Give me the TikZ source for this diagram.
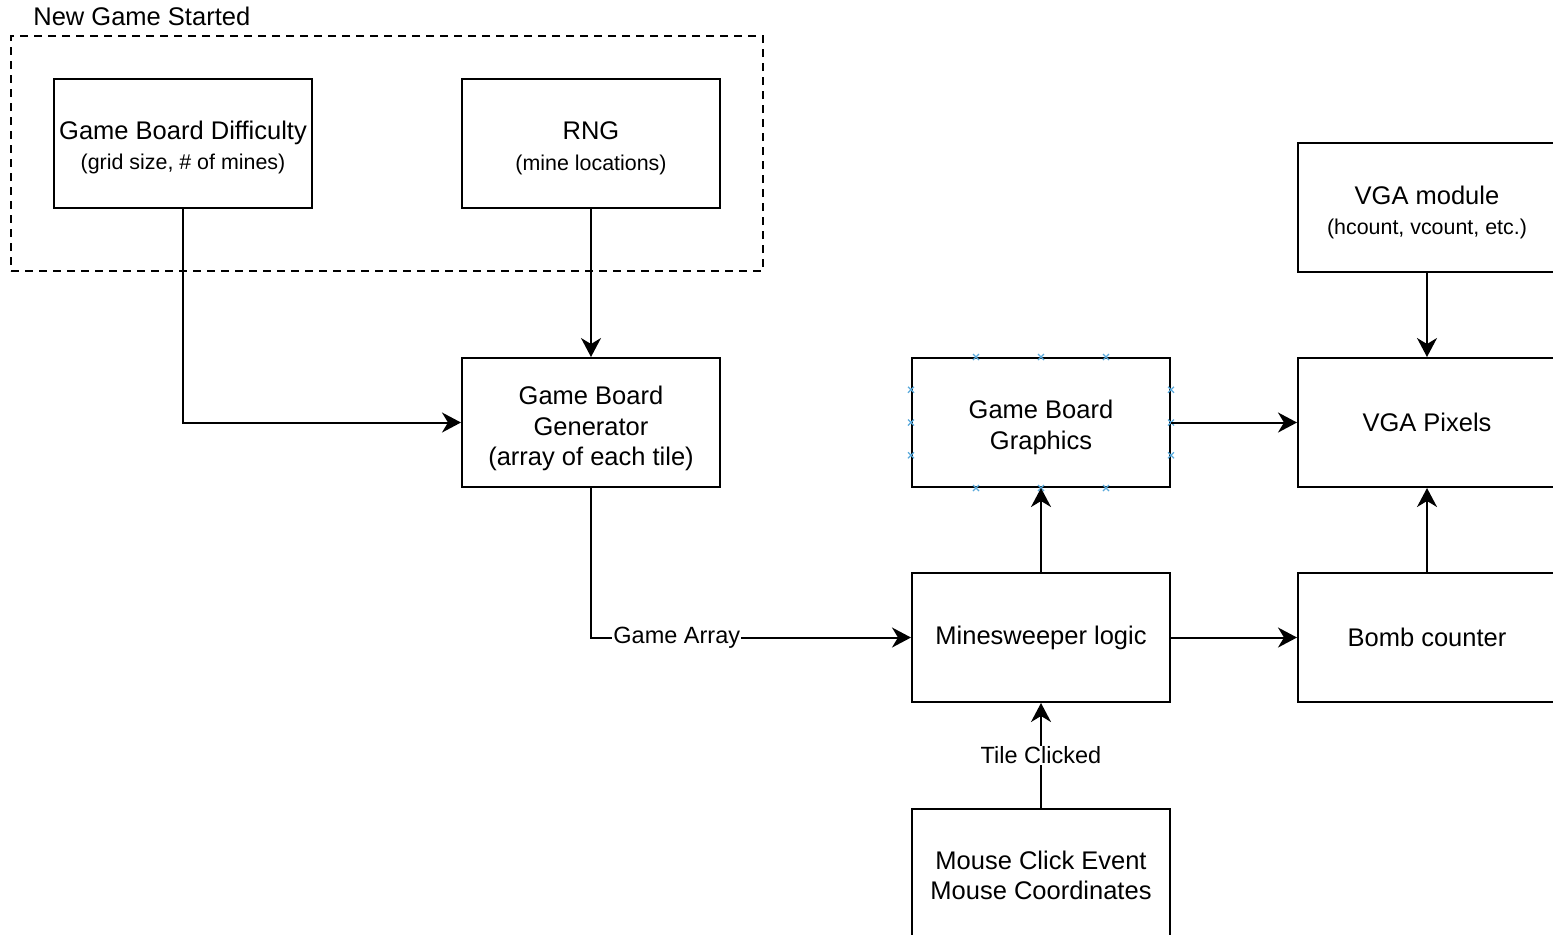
\documentclass[tikz,border=0pt]{standalone}
\usepackage{fontspec}
\setmainfont{Liberation Sans}
\usetikzlibrary{arrows.meta,positioning,calc}

\newcommand{\subtxt}{\fontsize{10.7}{13}\selectfont}
\newcommand{\tstrut}[1]{\rule{0pt}{#1}}

\begin{document}
\begin{tikzpicture}[x=0.5pt,y=-0.5pt,
  block/.style={draw, line width=1pt, minimum width=129pt, minimum height=64.5pt, align=center, inner sep=0pt, font=\fontsize{12.75}{15.25}\selectfont},
  group/.style={draw, dash pattern=on 4pt off 3pt, line width=0.9pt, minimum width=376pt, minimum height=117.5pt, inner sep=0pt},
  flow/.style={-{Stealth[length=9.5pt,width=10pt,inset=3pt]}, line width=1pt},
  lbl/.style={fill=white, inner sep=0.5pt, font=\fontsize{11.75}{14}\selectfont},
  handle/.style={draw={rgb,255:red,90;green,170;blue,220}, line width=0.6pt},
]
\useasboundingbox (0,0) rectangle (1553,934);

% group of things set when a game starts
\node[group] (newgame) at (387,153.5) {};
\node[anchor=base west, inner sep=0pt, font=\fontsize{12.75}{15.25}\selectfont] (newgamelbl) at (33,25) {New Game Started};

\node[block] (difficulty) at (183,143.5) {\tstrut{13.3pt}Game Board Difficulty\\{\subtxt (grid size, \# of mines)}};
\node[block] (rng) at (591,143.5) {\tstrut{13.5pt}RNG\\{\subtxt (mine locations)}};
\node[block] (vgamod) at (1427,207.5) {\tstrut{14.3pt}VGA module\\{\subtxt (hcount, vcount, etc.)}};

\node[block] (generator) at (591,422.5) {\tstrut{15.3pt}Game Board\\Generator\\(array of each tile)};
\node[block] (graphics) at (1041,422.5) {\tstrut{14.3pt}Game Board\\Graphics};
\node[block] (pixels) at (1427,422.5) {VGA Pixels};

\node[block] (logic) at (1041,637.5) {Minesweeper logic};
\node[block] (bomb) at (1427,637.5) {Bomb counter};
\node[block] (mouse) at (1041,873.5) {\tstrut{11.3pt}Mouse Click Event\\Mouse Coordinates};

% selection handles on the graphics box
\foreach \f in {0.25,0.5,0.75} {
  \draw[handle] ($(graphics.north west)!\f!(graphics.north east)$) +(-3,-3) -- +(3,3) +(-3,3) -- +(3,-3);
  \draw[handle] ($(graphics.south west)!\f!(graphics.south east)$) +(-3,-3) -- +(3,3) +(-3,3) -- +(3,-3);
  \draw[handle] ($(graphics.north west)!\f!(graphics.south west)$) +(-3,-3) -- +(3,3) +(-3,3) -- +(3,-3);
  \draw[handle] ($(graphics.north east)!\f!(graphics.south east)$) +(-3,-3) -- +(3,3) +(-3,3) -- +(3,-3);
}

\draw[flow] (difficulty.south) |- (generator.west);
\draw[flow] (rng.south) -- (generator.north);
\draw[flow] (generator.south) |- node[lbl, pos=0.634] {Game Array} (logic.west);
\draw[flow] (logic.north) -- (graphics.south);
\draw[flow] (graphics.east) -- (pixels.west);
\draw[flow] (vgamod.south) -- (pixels.north);
\draw[flow] (bomb.north) -- (pixels.south);
\draw[flow] (logic.east) -- (bomb.west);
\draw[flow] (mouse.north) -- node[lbl] {Tile Clicked} (logic.south);

\end{tikzpicture}
\end{document}
